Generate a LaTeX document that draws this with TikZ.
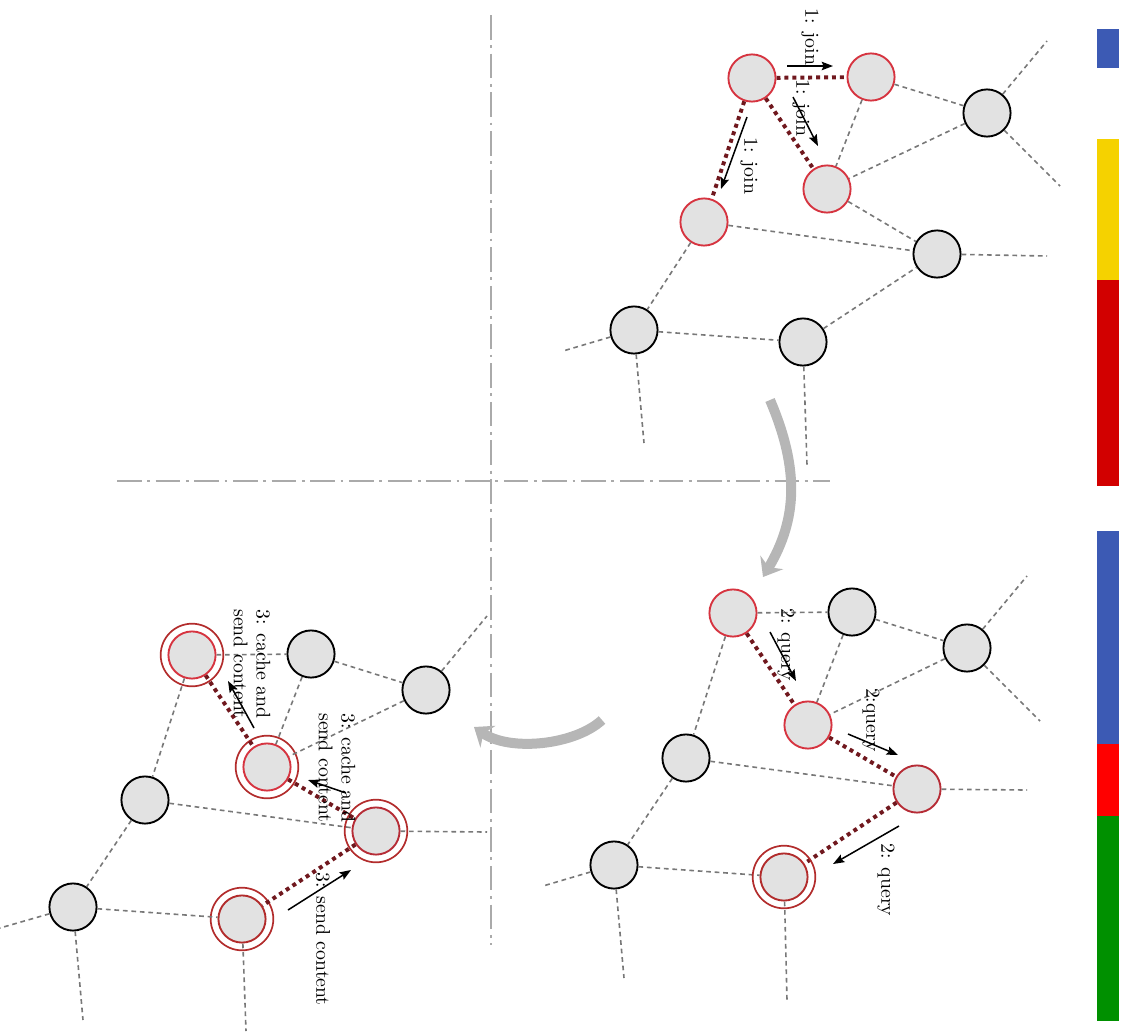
\documentclass[tikz,border=0pt]{standalone}
\usepackage{amsmath}
\usepackage{tikz}
\usetikzlibrary{arrows.meta}

\definecolor{nodefill}{RGB}{226,226,226}
\definecolor{joinred}{RGB}{214,52,64}
\definecolor{ringred}{RGB}{178,44,44}
\definecolor{routered}{RGB}{112,24,30}
\definecolor{linkgray}{RGB}{120,120,120}
\definecolor{sepgray}{RGB}{170,170,170}
\definecolor{flowgray}{RGB}{182,182,182}
\definecolor{barblue}{RGB}{60,90,180}
\definecolor{baryellow}{RGB}{245,210,0}
\definecolor{bardred}{RGB}{210,0,0}
\definecolor{barred}{RGB}{255,0,0}
\definecolor{bargreen}{RGB}{0,144,0}

\tikzset{
	peer/.style={circle, draw=black, fill=nodefill, line width=1pt, minimum size=25pt, inner sep=0pt},
	joined/.style={peer, draw=joinred},
	cached/.style={peer, draw=ringred},
	ring/.style={draw=ringred, line width=0.9pt},
	link/.style={draw=linkgray, line width=0.85pt, dash pattern=on 2.5pt off 2pt},
	route/.style={draw=routered, line width=2.1pt, dash pattern=on 2.1pt off 2.1pt},
	msg/.style={-{Stealth[length=6pt,width=4.5pt,inset=1pt]}, line width=0.8pt},
	msglabel/.style={rotate=-90, align=left, inner sep=0pt, font=\fontsize{10.5}{12}\selectfont},
	flow/.style={draw=flowgray, line width=5.3pt, -{Stealth[length=9pt,width=14pt,inset=3pt]}},
	sep/.style={draw=sepgray, line width=0.8pt, dash pattern=on 13pt off 3pt on 1.5pt off 3pt},
}

\begin{document}
\begin{tikzpicture}[x=0.53pt, y=-0.53pt]
\useasboundingbox (0,0) rectangle (1126,1031);

% separators
\draw[sep] (491,15) -- (491,945);
\draw[sep] (117,481) -- (830,481);

% step 1: join
\node[joined] (A1) at (752,78) {};
\node[joined] (B1) at (871,77) {};
\node[peer] (C1) at (987,113) {};
\node[joined] (D1) at (827,189) {};
\node[joined] (E1) at (704,222) {};
\node[peer] (F1) at (937,254) {};
\node[peer] (G1) at (634,330) {};
\node[peer] (H1) at (803,342) {};

\draw[link] (B1) -- (C1);
\draw[link] (B1) -- (D1);
\draw[link] (C1) -- (D1);
\draw[link] (C1) -- (1047,41);
\draw[link] (C1) -- (1060,186);
\draw[link] (D1) -- (F1);
\draw[link] (E1) -- (F1);
\draw[link] (F1) -- (1047,256);
\draw[link] (E1) -- (G1);
\draw[link] (G1) -- (563,351);
\draw[link] (G1) -- (644,443);
\draw[link] (G1) -- (H1);
\draw[link] (H1) -- (F1);
\draw[link] (H1) -- (807,465);
\draw[route] (A1) -- (B1);
\draw[route] (A1) -- (D1);
\draw[route] (A1) -- (E1);

\draw[msg] (787,66) -- (833,66);
\draw[msg] (793,97) -- (818,146);
\draw[msg] (747,117) -- (721,189);
\node[msglabel] (lj1) at (810,37) {1: join};
\node[msglabel] (lj2) at (801,108) {1: join};
\node[msglabel] (lj3) at (749,166) {1: join};

% step 2: query
\node[joined] (A2) at (733,613) {};
\node[peer] (B2) at (852,612) {};
\node[peer] (C2) at (967,648) {};
\node[joined] (D2) at (808,725) {};
\node[peer] (E2) at (686,758) {};
\node[cached, draw=joinred!85!black] (F2) at (917,789) {};
\node[peer] (G2) at (614,865) {};
\node[cached] (H2) at (784,877) {};

\draw[link] (A2) -- (B2);
\draw[link] (A2) -- (E2);
\draw[link] (B2) -- (C2);
\draw[link] (B2) -- (D2);
\draw[link] (C2) -- (D2);
\draw[link] (C2) -- (1027,576);
\draw[link] (C2) -- (1040,721);
\draw[link] (E2) -- (F2);
\draw[link] (F2) -- (1027,790);
\draw[link] (E2) -- (G2);
\draw[link] (G2) -- (543,886);
\draw[link] (G2) -- (624,978);
\draw[link] (G2) -- (H2);
\draw[link] (H2) -- (787,1000);
\draw[route] (A2) -- (D2);
\draw[route] (D2) -- (F2);
\draw[route] (F2) -- (H2);

\draw[msg] (770,632) -- (796,681);
\draw[msg] (848,734) -- (898,755);
\draw[msg] (899,826) -- (833,864);
\node[msglabel] (lq1) at (786,645) {2: query};
\node[msglabel] (lq2) at (871,720) {2:query};
\node[msglabel] (lq3) at (886,880) {2: query};

% step 3: send content back
\node[joined] (A3) at (192,655) {};
\node[peer] (B3) at (311,654) {};
\node[peer] (C3) at (426,690) {};
\node[joined] (D3) at (267,767) {};
\node[peer] (E3) at (145,800) {};
\node[cached, draw=joinred!85!black] (F3) at (376,831) {};
\node[peer] (G3) at (73,907) {};
\node[cached] (H3) at (242,919) {};

\foreach \n in {H2, A3, D3, F3, H3}
	\draw[ring] (\n) circle (16.6pt);

\draw[link] (A3) -- (B3);
\draw[link] (A3) -- (E3);
\draw[link] (B3) -- (C3);
\draw[link] (B3) -- (D3);
\draw[link] (C3) -- (D3);
\draw[link] (C3) -- (487,616);
\draw[link] (E3) -- (F3);
\draw[link] (F3) -- (487,832);
\draw[link] (E3) -- (G3);
\draw[link] (G3) -- (0,928);
\draw[link] (G3) -- (83,1020);
\draw[link] (G3) -- (H3);
\draw[link] (H3) -- (246,1031);
\draw[route] (A3) -- (D3);
\draw[route] (D3) -- (F3);
\draw[route] (F3) -- (H3);

\draw[msg] (254,728) -- (228,681);
\draw[msg] (346,793) -- (308,780);
\draw[msg] (288,910) -- (351,870);
\node[msglabel] (lc1) at (252,664) {3: cache and\\send content};
\node[msglabel] (lc2) at (337,768) {3: cache and\\send content};
\node[msglabel] (ls) at (323,939) {3: send content};

% flow between steps
\draw[flow] (770,400) .. controls (800,470) and (797,520) .. (763,577);
\draw[flow] (602,720) .. controls (575,745) and (510,752) .. (474,727);

% colour bars
\fill[barblue] (1097,29) rectangle (1119,68);
\fill[baryellow] (1097,139) rectangle (1119,280);
\fill[bardred] (1097,280) rectangle (1119,486);
\fill[barblue] (1097,531) rectangle (1119,744);
\fill[barred] (1097,744) rectangle (1119,816);
\fill[bargreen] (1097,816) rectangle (1119,1021);

\end{tikzpicture}
\end{document}
